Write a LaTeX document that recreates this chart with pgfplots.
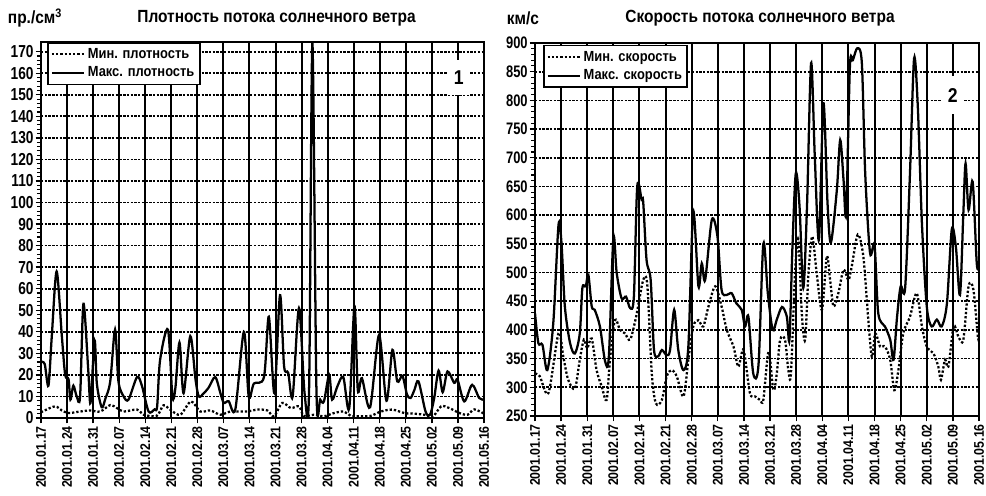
\documentclass[border=0pt]{standalone}
\usepackage{fontspec}
\setmainfont{Liberation Sans}[FakeStretch=0.88]
\usepackage{pgfplots}
\usepackage{pgfplotstable}
\pgfplotsset{compat=1.18}

\pgfplotstableread{
d v
0 26
1 25
2 15
2.9 38
4.2 68
5.6 38
6.5 20
7.4 18
7.9 8.5
8.7 15
9.6 10
10.5 10
11.4 53
12.7 22
13.3 7
14.4 36
15 16
16.3 5
17.3 9
18.6 17
19.9 41
20.8 17
22.2 10
23.5 8.5
25.8 19
27.1 15
28.9 3
30.5 4
31.2 5.4
32 27
34.1 41
35.3 10
36.1 14
37.2 35
38.3 11.5
40.1 38
41.5 18
42.4 10
43.7 11.5
45 14
46.8 19
48.2 11.5
49.1 7
50.4 7.8
52.2 4
54.5 40
55.8 10
57.2 16
59.9 19
61.2 47
62.7 11.5
64.2 57
65.3 24
66.4 21
67.6 10
69.3 51
70.8 11.5
72 12
72.9 174
74 12
75 8.5
76 7.7
77.4 20
78.2 8.5
79.6 14.6
81.2 19
82.8 4.5
84.2 52
85.1 13
86.2 18.5
88.4 5
90.8 38.5
92.8 8
94.4 31.6
95.7 17
97.1 19.5
98.3 11
99.3 9.3
100.3 13
101.4 17
103.3 3
104.5 1.5
105.6 9
106.8 22
107.9 12
109.2 21.6
111 16.3
111.9 17.7
113.7 7.7
115.8 15.4
117.7 9.3
119 8.5
}\densmax

\pgfplotstableread{
d v
0 2.6
1 3.5
3.8 5.4
5.6 3.5
7.4 2.3
10.5 3
13.2 3.5
15.9 3
18.6 6
20.4 4.6
22.2 3
25.8 3.9
27.6 1.5
31.1 1
32.9 5.9
34.7 3.9
37.4 1.5
40.3 7.7
42.8 3
45.5 3.5
48.2 1.5
50.9 3
55.4 3
58.1 3.9
60.8 3.5
62.6 0.8
64.8 7
67.1 4.6
69.3 5.4
70.6 1
73.3 1.5
76 0.8
78.7 2.3
81.4 3
83.2 1
85.9 0.8
88.6 1
91.3 3
94.4 3.9
97.6 2.3
100.3 2
103 1.5
105.2 0.5
107.5 5.4
109.7 4.6
112.4 2.3
114.6 1.5
116.4 4
119 2
}\densmin

\pgfplotstableread{
d v
0 429
0.9 377
2 374
3.3 330
4.9 412
6.3 583
7.1 551
8 441
9.4 377
10.7 359
12 394
12.7 473
13.6 476
14.3 496
15.2 441
16 435
17.4 406
18.8 345
19.8 354
21 560
21.9 499
23.2 455
24.4 458
25.5 438
26.5 458
27.4 650
28.6 626
29 623
29.9 522
31 487
31.9 365
33 354
34 365
35.3 356
36.2 365
37.3 435
38.4 365
39.8 330
41.1 371
42.4 606
43.8 476
44.7 516
45.6 487
47.4 592
48.9 563
50 470
51.4 461
52.7 464
54 446
55.4 435
56.3 406
57.2 423
58.5 324
59.9 339
61.2 550
62.4 464
63.7 400
64.8 418
66.2 440
67.5 423
68.2 383
69 545
69.9 673
70.9 615
71.9 473
72.9 615
74 865
75 700
76.1 557
77.3 795
78.4 621
79.3 552
80.9 644
81.8 731
82.7 661
83.4 603
84.4 859
85.2 870
86.4 891
87.6 865
88.5 673
89.8 534
91 548
92 429
93.8 406
95.2 383
96.1 348
97 420
98 476
99.2 473
100.5 673
101.6 873
102.6 789
103.7 586
105 441
106.3 406
107.7 418
109 406
110.4 446
111.7 575
112.8 545
113.9 461
114.8 603
115.4 690
116.2 609
117.3 658
118.4 516
119 510
}\spdmax

\pgfplotstableread{
d v
0 324
1.3 319
3.6 290
6.3 394
7.6 353
8.9 313
10.7 298
12 348
13.1 383
14 368
15.2 385
16.5 330
17.9 301
19.2 278
20.1 348
21.4 417
22.8 400
24.1 394
25.5 383
27.1 423
29 487
30.1 478
31.3 324
32.4 272
34 278
35.3 319
36.6 330
38 319
39.8 284
41.1 348
42.4 406
43.8 417
45.1 406
46.5 441
48.3 476
50 441
51.4 400
53.2 371
54.5 336
55.9 365
57.6 290
59 284
60.3 278
61.2 278
62.6 362
63.9 295
64.8 324
65.7 383
67 383
67.9 330
68.6 324
69.7 499
70.6 557
71.5 429
72.4 383
73.3 499
74.3 563
75.5 499
76.9 435
78.2 528
79.1 487
80 441
81.3 464
82.7 505
84 487
84.9 511
86.5 566
88 528
89.4 412
90.3 353
91.2 394
92.5 371
93.8 371
95.2 348
96.3 295
97.4 330
98.7 394
100.5 423
102.3 464
103.7 406
105 371
106.8 359
108.1 336
108.8 313
109.9 348
110.8 336
112.2 406
113.5 388
114.8 383
116.2 476
117.5 470
118.7 388
119 390
}\spdmin

\pgfplotsset{
  base/.style={
    scale only axis,
    xmin=0, xmax=119,
    xtick={0,7,...,119},
    xticklabels={2001.01.17,2001.01.24,2001.01.31,2001.02.07,2001.02.14,2001.02.21,2001.02.28,2001.03.07,2001.03.14,2001.03.21,2001.03.28,2001.04.04,2001.04.11,2001.04.18,2001.04.25,2001.05.02,2001.05.09,2001.05.16},
    x tick label style={rotate=90, anchor=east, font=\bfseries\fontsize{10.5}{10.5}\selectfont, inner sep=2pt},
    tick pos=left,
    tick align=outside,
    major tick length=4pt,
    minor tick length=3pt,
    minor y tick num=4,
    tick style={black, line width=1pt},
    minor tick style={black, line width=0.8pt},
    axis line style={black, line width=1.6pt},
    xmajorgrids, ymajorgrids,
    x grid style={black, line width=1.5pt},
    y grid style={black, line width=1.3pt, dash pattern=on 1.8pt off 1pt},
    /pgf/number format/assume math mode=true,
    legend cell align=left,
    legend image code/.code={\draw[#1] (0cm,0cm) -- (0.85cm,0cm);},
    legend style={anchor=north west, draw=black, line width=1.2pt, fill=white,
      font=\bfseries\fontsize{11}{12}\selectfont, inner xsep=2pt, inner ysep=2pt, row sep=1pt},
  },
  maxline/.style={black, line width=1.7pt, smooth, tension=0.5},
  minline/.style={black, line width=1.7pt, dash pattern=on 1.7pt off 1.5pt, smooth, tension=0.5},
}

\begin{document}
\begin{tikzpicture}
\useasboundingbox (0,0) rectangle (739.5pt,372pt);

\node[font=\bfseries\fontsize{13.2}{14}\selectfont] at (207.4pt,358.5pt) {Плотность потока солнечного ветра};
\node[font=\bfseries\fontsize{13.2}{14}\selectfont] at (26.25pt,358.5pt) {пр./см\textsuperscript{3}};
\node[font=\bfseries\fontsize{13.2}{14}\selectfont] at (392.25pt,358.5pt) {км/с};
\node[font=\bfseries\fontsize{13.2}{14}\selectfont] at (570pt,358.5pt) {Скорость потока солнечного ветра};

\begin{axis}[base,
  at={(30.75pt,58.5pt)}, anchor=south west,
  width=332.25pt, height=282pt,
  ymin=0, ymax=174.5,
  ytick={0,10,...,170},
  y tick label style={font=\bfseries\fontsize{13}{13}\selectfont, xscale=0.9, inner sep=1.5pt},
  legend style={at={(0.014,1)}},
]
\addplot[minline] table[x=d,y=v] {\densmin};
\addlegendentry{Мин. плотность}
\addplot[maxline] table[x=d,y=v] {\densmax};
\addlegendentry{Макс. плотность}
\node[fill=white, inner xsep=4pt, inner ysep=8pt, font=\bfseries\fontsize{15}{15}\selectfont] at (axis cs:112.2,158) {1};
\end{axis}

\begin{axis}[base,
  at={(401.25pt,60pt)}, anchor=south west,
  width=333pt, height=279.75pt,
  ymin=250, ymax=900,
  ytick={250,300,...,900},
  y tick label style={font=\bfseries\fontsize{12.5}{12.5}\selectfont, xscale=0.88, inner sep=1.5pt},
  legend style={at={(0.018,0.995)}},
]
\addplot[minline] table[x=d,y=v] {\spdmin};
\addlegendentry{Мин. скорость}
\addplot[maxline] table[x=d,y=v] {\spdmax};
\addlegendentry{Макс. скорость}
\node[fill=white, inner xsep=5pt, inner ysep=9pt, font=\bfseries\fontsize{15}{15}\selectfont] at (axis cs:112,809) {2};
\end{axis}
\end{tikzpicture}
\end{document}
